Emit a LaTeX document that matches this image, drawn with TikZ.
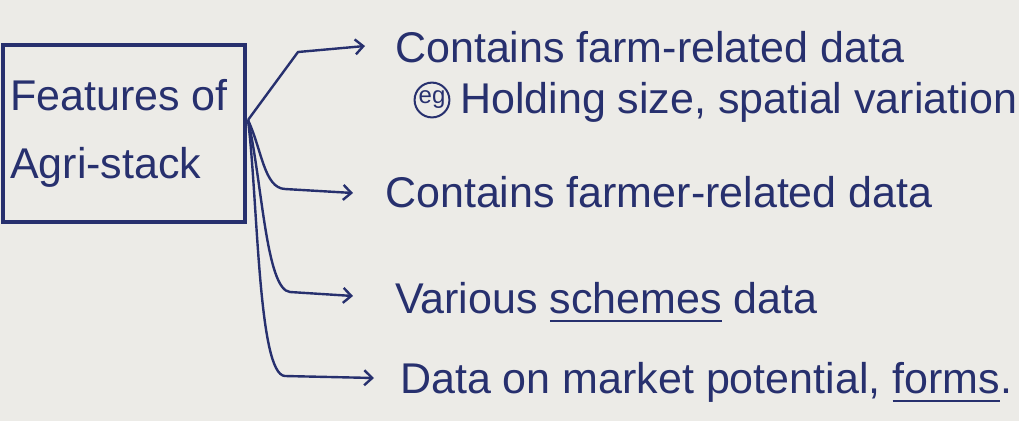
\documentclass[tikz,border=0pt]{standalone}
\usepackage{fontspec}
\setmainfont{Liberation Sans}
\usetikzlibrary{arrows.meta}
\definecolor{ink}{HTML}{27306E}
\definecolor{paper}{HTML}{ECEBE7}
\newcommand\myul[1]{\setbox0\hbox{#1}\rlap{\color{ink}\rule[-9pt]{\wd0}{2.4pt}}\box0\relax}
\begin{document}
\begin{tikzpicture}[x=1pt,y=-1pt,
  txt/.style={font=\fontsize{43}{50}\selectfont, text=ink, anchor=base west, inner sep=0pt},
  link/.style={draw=ink, line width=2.4pt, -{Straight Barb[length=8pt,width=15pt,line width=2.4pt]}},
  boxstyle/.style={draw=ink, line width=3.2pt}]
\fill[paper] (0,0) rectangle (1019,421);
\useasboundingbox (0,0) rectangle (1019,421);
% box
\draw[boxstyle] (3,45) rectangle (245,222);
\node[txt] (f1) at (10,110) {Features of};
\node[txt] (f2) at (10,178) {Agri-stack};
\coordinate (hub) at (248,120);
% items
\node[txt] (t1) at (395,62) {Contains farm-related data};
\node[draw=ink, line width=2pt, circle, inner sep=1pt, text=ink, font=\fontsize{24}{26}\selectfont] (eg) at (432,100) {eg};
\node[txt] (t1b) at (460,113) {Holding size, spatial variation};
\node[txt] (t2) at (385,207) {Contains farmer-related data};
\node[txt] (t3) at (395,313) {Various \myul{schemes} data};
\node[txt] (t4) at (400,393) {Data on market potential, \myul{forms}.};
% connectors
\draw[link] (hub) -- (298,52) -- ([xshift=-30pt]t1.west |- 0,46);
\draw[link] (hub) .. controls (262,150) and (264,188) .. (285,189) -- ([xshift=-32pt]t2.west |- 0,193);
\draw[link] (hub) .. controls (262,180) and (266,290) .. (290,292) -- ([xshift=-42pt]t3.west |- 0,296);
\draw[link] (hub) .. controls (258,200) and (258,375) .. (285,376) -- ([xshift=-26pt]t4.west |- 0,378);
\end{tikzpicture}
\end{document}
